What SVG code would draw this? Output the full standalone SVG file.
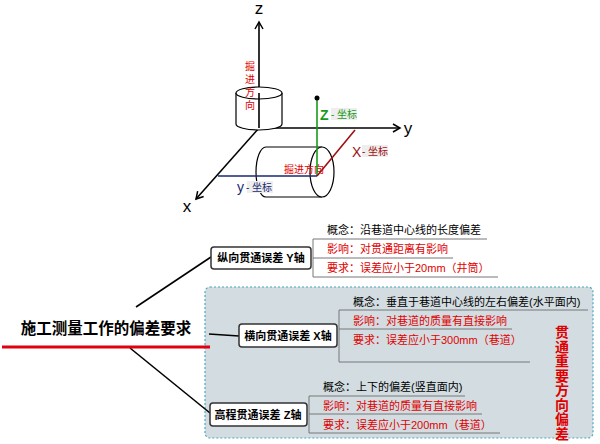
<svg xmlns="http://www.w3.org/2000/svg" width="600" height="444" viewBox="0 0 600 444">
<style>
text{font-family:"Liberation Sans","Noto Sans CJK SC",sans-serif}
.ax{stroke:#000;stroke-width:1.6;fill:none}
.cyl{stroke:#000;stroke-width:1.2;fill:#fff}
.box{fill:#fff;stroke:#333;stroke-width:1.5}
.bt{font-size:11px;font-weight:bold;fill:#000}
.br{stroke:#777;stroke-width:1;fill:none}
.k{font-size:11px;fill:#000}
.r{font-size:11px;fill:#e00000}
.conn{stroke:#000;stroke-width:1.6;fill:none}
.vt{font-family:"Noto Sans CJK SC",serif;fill:#e00000}
</style>
<defs>
<marker id="ah" markerWidth="10" markerHeight="10" refX="8" refY="5" orient="auto" markerUnits="userSpaceOnUse"><path d="M1,1 L8,5 L1,9" fill="none" stroke="#000" stroke-width="1.5"/></marker>
</defs>
<rect width="600" height="444" fill="#fff"/>
<g id="figure3d">
<line class="ax" x1="259" y1="128" x2="259" y2="22" marker-end="url(#ah)"/>
<line class="ax" x1="259" y1="128" x2="400" y2="128" marker-end="url(#ah)"/>
<line class="ax" x1="259" y1="128" x2="196" y2="199" marker-end="url(#ah)"/>
<text x="259" y="14" font-size="17" text-anchor="middle">z</text>
<text x="408" y="134" font-size="17" text-anchor="middle">y</text>
<text x="187" y="212" font-size="17" text-anchor="middle">x</text>
<path class="cyl" d="M236,93 L236,124 A23,6 0 0 0 282,124 L282,93" fill="none"/>
<ellipse cx="259" cy="93" rx="23" ry="6" class="cyl" fill="none"/>
<line class="ax" x1="259" y1="93" x2="259" y2="128"/>
<g class="vt" font-size="10" text-anchor="middle"><text x="250" y="70">掘</text><text x="250" y="83">进</text><text x="250" y="96">方</text><text x="250" y="109">向</text></g>
<path class="cyl" d="M322,147 L266,147 A10,25 0 0 0 266,197 L322,197"/>
<ellipse cx="322" cy="172" rx="12" ry="25" class="cyl" fill="none"/>
<text x="284" y="173" class="vt" font-size="10">掘进方向</text>
<line x1="317" y1="176" x2="317" y2="98" stroke="#1a9a1a" stroke-width="1.6"/>
<circle cx="317" cy="98" r="2.5" fill="#000"/>
<line x1="317" y1="176" x2="355" y2="130" stroke="#a01010" stroke-width="1.6"/>
<line x1="317" y1="176" x2="218" y2="176" stroke="#1a2a70" stroke-width="1.6"/>
<rect x="331" y="108" width="26" height="12" fill="#eee"/>
<text x="320" y="120" font-size="14" fill="#1a9a1a" font-weight="bold">Z</text><text x="331" y="118" font-size="10" fill="#1a9a1a">- 坐标</text>
<rect x="362" y="145" width="26" height="12" fill="#eee"/>
<text x="352" y="157" font-size="14" fill="#a01010">X</text><text x="362" y="155" font-size="10" fill="#a01010">- 坐标</text>
<rect x="247" y="181" width="26" height="12" fill="#eee"/>
<text x="237" y="192" font-size="14" fill="#1a2a70">y</text><text x="246" y="191" font-size="10" fill="#1a2a70">- 坐标</text>
</g>
<g id="group-bg">
<rect x="205" y="287" width="388" height="151" rx="5" fill="#d3dde1" stroke="#4aa8c0" stroke-width="1.2" stroke-dasharray="2,2"/>
</g>
<g id="connectors">
<line class="conn" x1="136" y1="307" x2="211" y2="257"/>
<line class="conn" x1="209" y1="334" x2="239" y2="336"/>
<line class="conn" x1="130" y1="348" x2="210" y2="413"/>
<line x1="2" y1="347" x2="210" y2="347" stroke="#e00010" stroke-width="3"/>
</g>
<g id="root">
<text x="106" y="334" font-size="15.5" font-weight="bold" text-anchor="middle">施工测量工作的偏差要求</text>
</g>
<g id="node-y">
<rect class="box" x="211" y="247" width="100" height="22" rx="3"/>
<text class="bt" x="261" y="262" text-anchor="middle">纵向贯通误差  Y轴</text>
<path class="br" d="M487,239 H313 V277 H498 M313,258 H453"/>
<text class="k" x="327" y="234">概念：沿巷道中心线的长度偏差</text>
<text class="r" x="327" y="253">影响：对贯通距离有影响</text>
<text class="r" x="327" y="272">要求：误差应小于20mm（井筒）</text>
</g>
<g id="node-x">
<rect class="box" x="239" y="324" width="98" height="23" rx="3"/>
<text class="bt" x="288" y="340" text-anchor="middle">横向贯通误差 X轴</text>
<path class="br" d="M588,310 H339 V362 H530 M339,329 H512"/>
<text class="k" x="353" y="306">概念：垂直于巷道中心线的左右偏差(水平面内)</text>
<text class="r" x="353" y="325">影响：对巷道的质量有直接影响</text>
<text class="r" x="353" y="344">要求：误差应小于300mm（巷道）</text>
</g>
<g id="node-z">
<rect class="box" x="210" y="403" width="97" height="23" rx="3"/>
<text class="bt" x="258" y="419" text-anchor="middle">高程贯通误差 Z轴</text>
<path class="br" d="M465,396 H309 V433 H500 M309,414 H482"/>
<text class="k" x="323" y="391">概念：上下的偏差(竖直面内)</text>
<text class="r" x="323" y="410">影响：对巷道的质量有直接影响</text>
<text class="r" x="323" y="429">要求：误差应小于200mm（巷道）</text>
</g>
<g id="note" class="vt" font-size="14" font-weight="bold" text-anchor="middle">
<text x="562" y="337">贯</text><text x="562" y="351.5">通</text><text x="562" y="366">重</text><text x="562" y="380.5">要</text><text x="562" y="395">方</text><text x="562" y="409.5">向</text><text x="562" y="424">偏</text><text x="562" y="438.5">差</text>
</g>
</svg>
